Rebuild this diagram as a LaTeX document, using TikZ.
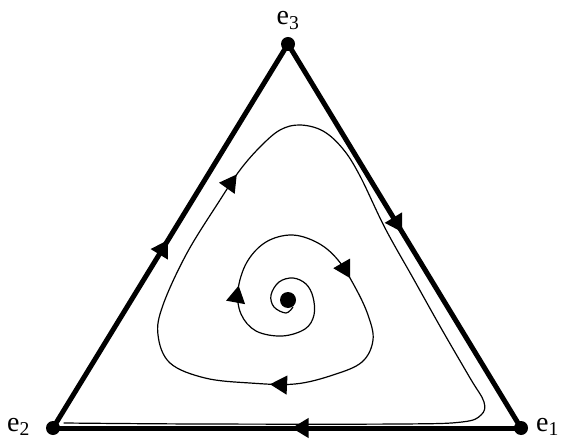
\documentclass[tikz,border=0pt]{standalone}
\usepackage{fontspec}
\setmainfont{Liberation Serif}
\usepackage{tikz}
\usetikzlibrary{arrows.meta, decorations.markings}

\begin{document}
\begin{tikzpicture}[x=1pt, y=-1pt,
  flowtip/.tip  = {Triangle[length=17pt, width=19pt]},
  vertex/.style = {circle, fill=black, inner sep=0pt, minimum size=14pt},
  vlabel/.style = {font=\fontsize{28}{30}\selectfont, inner sep=0pt},
  side/.style   = {line width=5pt, postaction={decorate},
                   decoration={markings,
                     mark=at position 0.49 with {\arrow{flowtip}}}},
  orbit/.style  = {line width=1.2pt, line cap=round, postaction={decorate},
                   decoration={markings,
                     mark=at position 234pt with {\arrow{flowtip}},
                     mark=at position 390pt with {\arrow{flowtip}},
                     mark=at position 578pt with {\arrow{flowtip}},
                     mark=at position 894pt with {\arrow{flowtip}}}},
]
\useasboundingbox (0,0) rectangle (561,443);

%% vertices of the simplex
\coordinate (c1) at (521,428);
\coordinate (c2) at (53,428);
\coordinate (c3) at (288,44);

%% heteroclinic cycle on the boundary
\draw[side] (c2) -- (c3);
\draw[side] (c3) -- (c1);
\draw[side] (c1) -- (c2);

%% orbit spiralling out of the interior rest point
\draw[orbit] plot[smooth, tension=0.6] coordinates {
  (293,307) (286,313) (274,307) (271,295) (279,282) (293,278)
  (306,284) (313,297) (314,315) (305,329) (282,336) (256,331)
  (241,314) (238,290) (247,262) (266,242) (292,235) (318,243)
  (338,260) (355,287) (368,315) (373,340) (362,362) (333,375)
  (295,384) (250,383) (205,378) (170,363) (158,335) (163,305)
  (187,253) (220,200) (240,170) (260,147) (280,130) (300,125)
  (323,131) (343,149) (360,176) (385,228) (413,278) (441,328)
  (470,378) (484,402) (481,415) (462,422) (400,424) (200,424)
  (64,423)};

%% rest points
\node[vertex] (e1) at (c1) {};
\node[vertex] (e2) at (c2) {};
\node[vertex] (e3) at (c3) {};
\node[vertex, minimum size=16pt] (ec) at (288,300) {};

%% labels
\node[vlabel, anchor=base]      (l3) at (288,25)  {e\textsubscript{3}};
\node[vlabel, anchor=base west] (l2) at (7,431)   {e\textsubscript{2}};
\node[vlabel, anchor=base west] (l1) at (536,431) {e\textsubscript{1}};

\end{tikzpicture}
\end{document}
